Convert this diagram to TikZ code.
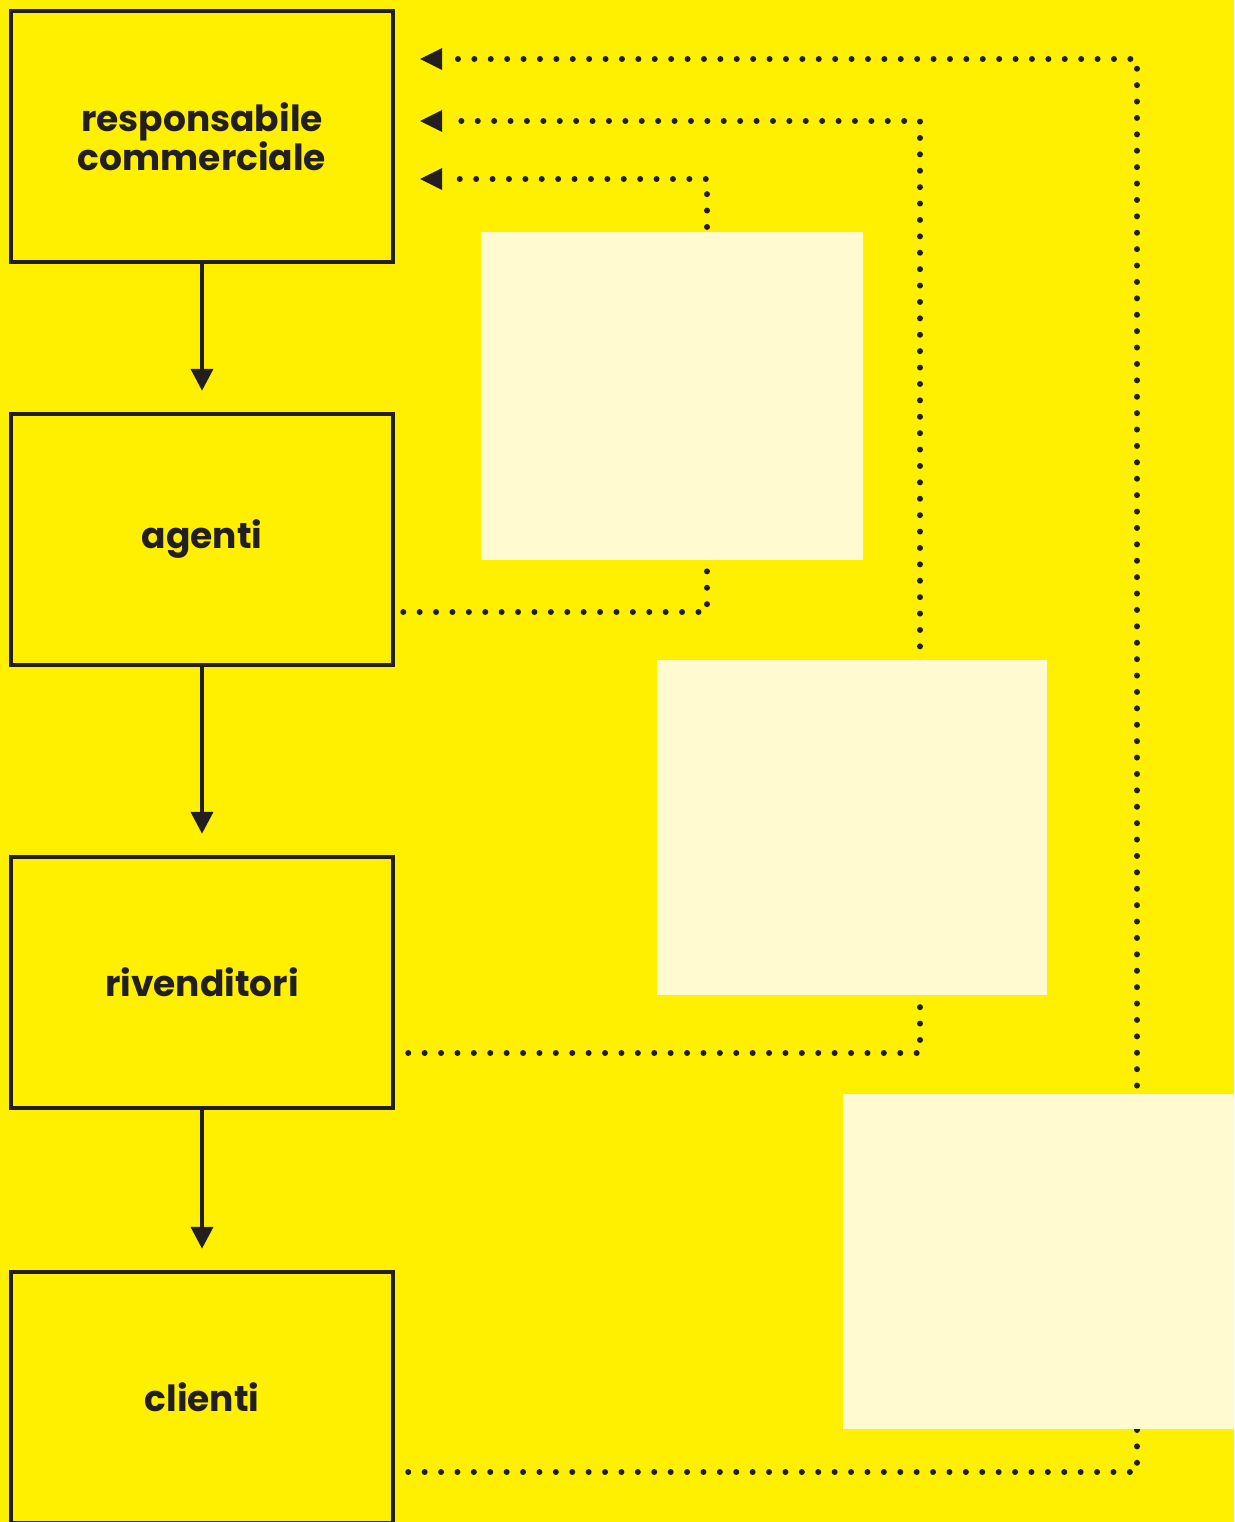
\documentclass[tikz,border=0pt]{standalone}
\usepackage{fontspec}
\setmainfont{Poppins}
\usepackage{tikz}
\usetikzlibrary{arrows.meta,positioning,calc}
\definecolor{bgyellow}{RGB}{255,240,0}
\definecolor{ink}{RGB}{35,31,32}
\definecolor{paleyellow}{RGB}{255,250,208}

\begin{document}
\begin{tikzpicture}[x=1pt, y=-1pt,
  level/.style={draw=ink, line width=4.5pt, minimum width=382pt, minimum height=251pt, inner sep=0pt, font=\fontsize{36}{35}\selectfont\bfseries, text=ink, align=center},
  down/.style={draw=ink, line width=4pt, -{Triangle[width=22pt,length=22pt]}, shorten >=21pt},
  feedback/.style={draw=ink, line width=6pt, line cap=round, dash pattern=on 0pt off 16.4pt},
  note/.style={fill=paleyellow}]
\fill[bgyellow] (0,0) rectangle (1234,1522);
\useasboundingbox (0,0) rectangle (1234,1522);

% levels of the chain
\node[level] (resp) at (202,136.5) {responsabile\\commerciale};
\node[level] (agenti) at (202,539.5) {agenti};
\node[level] (rivend) at (202,982.5) {rivenditori};
\node[level] (clienti) at (202,1397.5) {clienti};

\draw[down] (resp) -- (agenti);
\draw[down] (agenti) -- (rivend);
\draw[down] (rivend) -- (clienti);

% feedback corners and ends
\coordinate (c1) at (707,612);
\coordinate (c1t) at (707,179);
\coordinate (e1) at (457,179);
\coordinate (c2) at (920,1053);
\coordinate (c2t) at (920,121);
\coordinate (e2) at (457,121);
\coordinate (c3) at (1137,1472);
\coordinate (c3t) at (1137,59);
\coordinate (e3) at (457,59);

\draw[feedback] ($(agenti.east |- c1)+(8,0)$) -- (c1) -- (c1t) -- (e1);
\draw[feedback] ($(rivend.east |- c2)+(13,0)$) -- (c2) -- (c2t) -- (e2);
\draw[feedback] ($(clienti.east |- c3)+(13,0)$) -- (c3) -- (c3t) -- (e3);

% arrow heads
\foreach \e in {e1,e2,e3}
  \fill[ink] ($(\e)+(-37,0)$) -- ++(22,-11) -- ++(0,22) -- cycle;

% pale boxes
\fill[note] (481,232) rectangle (863,560);
\fill[note] (657,660) rectangle (1047,995);
\fill[note] (843,1094) rectangle (1234,1429);
\end{tikzpicture}
\end{document}
